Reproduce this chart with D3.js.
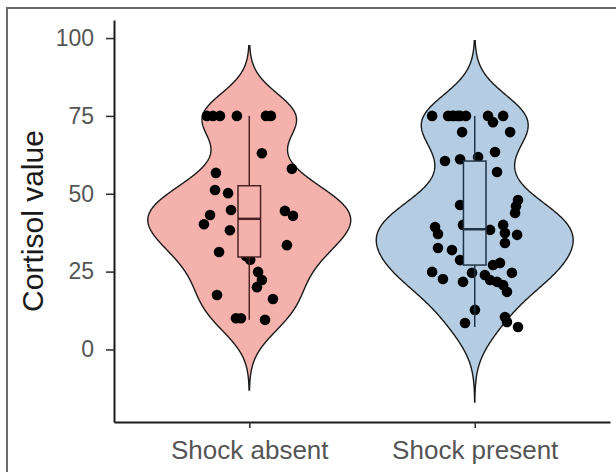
<!DOCTYPE html>
<html>
<head>
<meta charset="utf-8">
<script src="https://cdn.jsdelivr.net/npm/d3@7"></script>
<style>
  body { margin: 0; background: #fff; overflow: hidden; }
  svg { display: block; font-family: Arial, "Liberation Sans", sans-serif; }
</style>
</head>
<body>
<svg id="chart"></svg>
<script>
// groups on the x axis
const categories = ["Shock absent", "Shock present"];

// cortisol values (incl. points hidden behind the boxes)
const absentValues = [75, 75, 75, 75, 75, 75, 63, 58, 56.7, 51.2, 50.2, 44.8, 43.2, 40.2,
  44.5, 42.9, 38.3, 31.3, 33.5, 24.9, 22.3, 20, 17.5, 16.2, 10, 10, 9.5,
  28.8, 30, 34, 36, 39, 41, 46, 48, 49.5];
// horizontal jitter, in category units
const absentJitter = [-0.188, -0.161, -0.13, -0.055, 0.074, 0.096, 0.056, 0.189, -0.148, -0.152, -0.094, -0.081, -0.174, -0.201,
  0.158, 0.194, -0.086, -0.134, 0.167, 0.039, 0.056, 0.034, -0.143, 0.105, -0.059, -0.037, 0.07,
  0.004, -0.015, 0.012, 0, -0.01, 0.015, -0.005, 0.008, -0.012];

const presentValues = [75, 75, 75, 75, 75, 75, 73, 75, 69.8, 69.8, 60.5, 61.1, 61.8, 63.4, 57,
  46.4, 48, 46, 43.8, 39.3, 37.1, 40, 38.4, 40, 37.4, 36.8, 34.2,
  32.6, 31.9, 28.7, 27.1, 27.8, 24.9, 22.6, 21.7, 24.6, 23.9, 22.3, 21.7, 20.7, 18.5, 24.6,
  12.7, 8.5, 10.4, 8.8, 7.2,
  29.5, 31, 33, 35, 36.5, 38.6, 40.5, 42, 43.5, 45, 47.5, 50, 75, 75];
const presentJitter = [-0.189, -0.118, -0.092, -0.065, -0.039, 0.059, 0.081, 0.126, -0.056, 0.157, -0.132, -0.065, 0.015, 0.09, 0.099,
  -0.065, 0.192, 0.183, 0.179, -0.176, -0.163, -0.052, 0.068, 0.126, 0.134, 0.188, 0.134,
  -0.163, -0.101, -0.065, 0.081, 0.112, -0.189, -0.141, -0.052, -0.012, 0.045, 0.068, 0.099, 0.126, 0.143, 0.165,
  0.001, -0.043, 0.134, 0.143, 0.192,
  0.01, -0.01, 0.012, -0.008, 0.005, -0.012, 0.01, -0.005, 0.012, -0.01, 0.005, 0, -0.1, -0.075];

const yTicks = [0, 25, 50, 75, 100];
const fills = ["#f5b1ab", "#b4cde3"];
const lineCols = ["#4a2424", "#1f3346"];

const W = 616, H = 472;
const margin = { top: 20, right: 6, bottom: 50, left: 114 };

const svg = d3.select("#chart").attr("width", W).attr("height", H);

// outer frame (only top and left edges are inside the picture)
svg.append("path")
  .attr("d", `M7,${H}V8H${W}`)
  .attr("fill", "none").attr("stroke", "#6a6a6a").attr("stroke-width", 2);

const x = d3.scalePoint()
  .domain(categories)
  .range([margin.left, W - margin.right])
  .padding(0.6);
const step = x.step();

const y = d3.scaleLinear()
  .domain([-23.3, 105.8])
  .range([H - margin.bottom, margin.top]);

const groups = [
  { name: categories[0], values: absentValues, jitter: absentJitter },
  { name: categories[1], values: presentValues, jitter: presentJitter }
];

// gaussian kde, like ggplot's violin (bw.nrd0, cut = 3)
function nrd0(v) {
  const s = d3.sort(v);
  const iqr = d3.quantileSorted(s, 0.75) - d3.quantileSorted(s, 0.25);
  return 0.9 * Math.min(d3.deviation(s), iqr / 1.34) * Math.pow(s.length, -0.2);
}
function kde(v, bw) {
  const lo = d3.min(v) - 3 * bw, hi = d3.max(v) + 3 * bw;
  return d3.range(512).map(i => {
    const t = lo + (hi - lo) * i / 511;
    const d = d3.mean(v, xi => Math.exp(-0.5 * ((t - xi) / bw) ** 2)) / (bw * Math.sqrt(2 * Math.PI));
    return [t, d];
  });
}

groups.forEach(g => {
  g.dens = kde(g.values, nrd0(g.values));
  const s = d3.sort(g.values);
  g.q1 = d3.quantileSorted(s, 0.25);
  g.med = d3.quantileSorted(s, 0.5);
  g.q3 = d3.quantileSorted(s, 0.75);
  const iqr = g.q3 - g.q1;
  g.lo = d3.min(s.filter(v => v >= g.q1 - 1.5 * iqr));
  g.hi = d3.max(s.filter(v => v <= g.q3 + 1.5 * iqr));
});

const maxD = d3.max(groups, g => d3.max(g.dens, d => d[1]));
const w = d3.scaleLinear().domain([0, maxD]).range([0, step * 0.45]);

// violins
groups.forEach((g, i) => {
  const cx = x(g.name);
  const area = d3.area()
    .x0(d => cx - w(d[1]))
    .x1(d => cx + w(d[1]))
    .y(d => y(d[0]));
  svg.append("path")
    .datum(g.dens)
    .attr("d", area)
    .attr("fill", fills[i])
    .attr("stroke", "#1a1a1a")
    .attr("stroke-width", 1.4);
});

// jittered points
groups.forEach(g => {
  const cx = x(g.name);
  svg.append("g").selectAll("circle")
    .data(g.values.map((v, k) => ({ v, j: g.jitter[k] })))
    .join("circle")
    .attr("cx", d => cx + d.j * step)
    .attr("cy", d => y(d.v))
    .attr("r", 5.3)
    .attr("fill", "#000");
});

// boxplots
const boxW = step * 0.1;
groups.forEach((g, i) => {
  const cx = x(g.name);
  const b = svg.append("g")
    .attr("stroke", lineCols[i])
    .attr("stroke-width", 1.5);
  b.append("line").attr("x1", cx).attr("x2", cx).attr("y1", y(g.q3)).attr("y2", y(g.hi));
  b.append("line").attr("x1", cx).attr("x2", cx).attr("y1", y(g.q1)).attr("y2", y(g.lo));
  b.append("rect")
    .attr("x", cx - boxW / 2).attr("width", boxW)
    .attr("y", y(g.q3)).attr("height", y(g.q1) - y(g.q3))
    .attr("fill", fills[i]);
  b.append("line")
    .attr("x1", cx - boxW / 2).attr("x2", cx + boxW / 2)
    .attr("y1", y(g.med)).attr("y2", y(g.med))
    .attr("stroke-width", 2.5);
});

// axes
const yAxis = d3.axisLeft(y).tickValues(yTicks).tickSize(8).tickPadding(12).tickSizeOuter(0);
const xAxis = d3.axisBottom(x).tickSize(6).tickPadding(13).tickSizeOuter(0);

const yG = svg.append("g")
  .attr("transform", `translate(${margin.left},0)`)
  .call(yAxis);
const xG = svg.append("g")
  .attr("transform", `translate(0,${H - margin.bottom})`)
  .call(xAxis);

[yG, xG].forEach(a => {
  a.select(".domain").attr("stroke", "#1a1a1a").attr("stroke-width", 2);
  a.selectAll(".tick line").attr("stroke", "#333").attr("stroke-width", 1.6);
  a.selectAll(".tick text").attr("fill", "#555");
});
yG.selectAll(".tick text").style("font-size", "23px");
xG.selectAll(".tick text").style("font-size", "26px");

// y title
svg.append("text")
  .attr("transform", `translate(43,${(margin.top + H - margin.bottom) / 2}) rotate(-90)`)
  .attr("text-anchor", "middle")
  .attr("fill", "#1a1a1a")
  .style("font-size", "30px")
  .text("Cortisol value");
</script>
</body>
</html>
